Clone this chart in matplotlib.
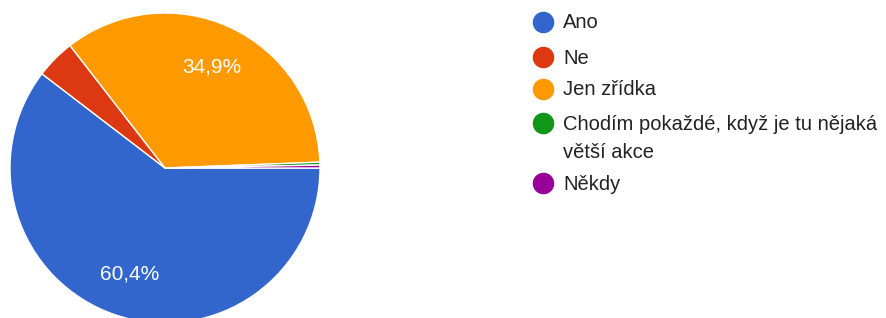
import matplotlib.pyplot as plt
from matplotlib.lines import Line2D

plt.rcParams['font.family'] = ['Liberation Sans', 'DejaVu Sans']

labels = ['Ano', 'Ne', 'Jen zřídka', 'Chodím pokaždé, když je tu nějaká\nvětší akce', 'Někdy']
values = [60.4, 4.1, 34.9, 0.3, 0.3]
colors = ['#3366cc', '#dc3912', '#ff9900', '#109618', '#990099']

W, H = 886, 318
fig = plt.figure(figsize=(W / 100, H / 100), dpi=100)

# pie axes placed in pixels: centre (165,168), radius 155
cx, cy, r = 165, 168, 155
ax = fig.add_axes([(cx - r) / W, (H - cy - r) / H, 2 * r / W, 2 * r / H])


def fmt(pct):
    if pct < 5:
        return ''
    return f'{pct:.1f}'.replace('.', ',') + '%'


wedges, texts, autotexts = ax.pie(values, colors=colors, startangle=0, counterclock=False,
                                  autopct=fmt, pctdistance=0.72, radius=1,
                                  wedgeprops=dict(edgecolor='white', linewidth=1))
for t in autotexts:
    t.set_color('white')
    t.set_fontsize(15)
ax.set_xlim(-1, 1)
ax.set_ylim(-1, 1)
ax.set_aspect('auto')
ax.axis('off')

# legend, drawn by hand so the marker sits on the first line
leg_y = [22, 57, 89, 123, 183]
for lab, col, y in zip(labels, colors, leg_y):
    fig.add_artist(Line2D([543 / W], [1 - y / H], marker='o', markersize=14.5,
                          color=col, transform=fig.transFigure))
    for i, line in enumerate(lab.split('\n')):
        fig.text(563 / W, 1 - (y + 1 + 28 * i) / H, line, fontsize=14.5, color='#222222',
                 va='center', ha='left')

fig.savefig('out.png', dpi=100)
